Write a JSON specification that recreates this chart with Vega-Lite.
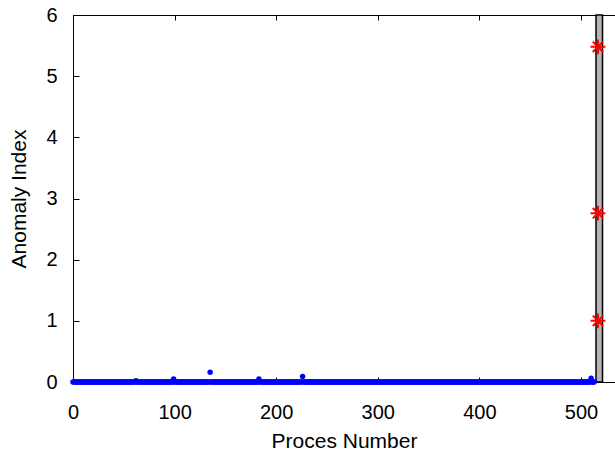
{
  "$schema": "https://vega.github.io/schema/vega-lite/v6.json",
  "width": 542,
  "height": 367,
  "autosize": {"type": "none"},
  "padding": {"left": 73, "top": 15, "right": 0, "bottom": 71},
  "background": "white",
  "config": {
    "view": {"stroke": null},
    "font": "Liberation Sans",
    "axis": {
      "grid": false,
      "labelFlush": false,
      "labelOverlap": false,
      "domainColor": "black",
      "domainWidth": 1,
      "tickColor": "black",
      "tickWidth": 1,
      "labelColor": "black",
      "titleColor": "black",
      "labelFont": "Liberation Sans",
      "titleFont": "Liberation Sans",
      "labelFontSize": 20,
      "titleFontSize": 21,
      "titleFontWeight": "normal"
    }
  },
  "datasets": {
    "blue": [
{"p":0,"a":0},{"p":1,"a":0},{"p":2,"a":0},{"p":3,"a":0},{"p":4,"a":0},{"p":5,"a":0},{"p":6,"a":0},{"p":7,"a":0},{"p":8,"a":0},{"p":9,"a":0},
{"p":10,"a":0},{"p":11,"a":0},{"p":12,"a":0},{"p":13,"a":0},{"p":14,"a":0},{"p":15,"a":0},{"p":16,"a":0},{"p":17,"a":0},{"p":18,"a":0},{"p":19,"a":0},
{"p":20,"a":0},{"p":21,"a":0},{"p":22,"a":0},{"p":23,"a":0},{"p":24,"a":0},{"p":25,"a":0},{"p":26,"a":0},{"p":27,"a":0},{"p":28,"a":0},{"p":29,"a":0},
{"p":30,"a":0},{"p":31,"a":0},{"p":32,"a":0},{"p":33,"a":0},{"p":34,"a":0},{"p":35,"a":0},{"p":36,"a":0},{"p":37,"a":0},{"p":38,"a":0},{"p":39,"a":0},
{"p":40,"a":0},{"p":41,"a":0},{"p":42,"a":0},{"p":43,"a":0},{"p":44,"a":0},{"p":45,"a":0},{"p":46,"a":0},{"p":47,"a":0},{"p":48,"a":0},{"p":49,"a":0},
{"p":50,"a":0},{"p":51,"a":0},{"p":52,"a":0},{"p":53,"a":0},{"p":54,"a":0},{"p":55,"a":0},{"p":56,"a":0},{"p":57,"a":0},{"p":58,"a":0},{"p":59,"a":0},
{"p":60,"a":0},{"p":61,"a":0},{"p":62,"a":0.02},{"p":63,"a":0},{"p":64,"a":0},{"p":65,"a":0},{"p":66,"a":0},{"p":67,"a":0},{"p":68,"a":0},{"p":69,"a":0},
{"p":70,"a":0},{"p":71,"a":0},{"p":72,"a":0},{"p":73,"a":0},{"p":74,"a":0},{"p":75,"a":0},{"p":76,"a":0},{"p":77,"a":0},{"p":78,"a":0},{"p":79,"a":0},
{"p":80,"a":0},{"p":81,"a":0},{"p":82,"a":0},{"p":83,"a":0},{"p":84,"a":0},{"p":85,"a":0},{"p":86,"a":0},{"p":87,"a":0},{"p":88,"a":0},{"p":89,"a":0},
{"p":90,"a":0},{"p":91,"a":0},{"p":92,"a":0},{"p":93,"a":0},{"p":94,"a":0},{"p":95,"a":0},{"p":96,"a":0},{"p":97,"a":0},{"p":98,"a":0},{"p":99,"a":0.05},
{"p":100,"a":0},{"p":101,"a":0},{"p":102,"a":0},{"p":103,"a":0},{"p":104,"a":0},{"p":105,"a":0},{"p":106,"a":0},{"p":107,"a":0},{"p":108,"a":0},{"p":109,"a":0},
{"p":110,"a":0},{"p":111,"a":0},{"p":112,"a":0},{"p":113,"a":0},{"p":114,"a":0},{"p":115,"a":0},{"p":116,"a":0},{"p":117,"a":0},{"p":118,"a":0},{"p":119,"a":0},
{"p":120,"a":0},{"p":121,"a":0},{"p":122,"a":0},{"p":123,"a":0},{"p":124,"a":0},{"p":125,"a":0},{"p":126,"a":0},{"p":127,"a":0},{"p":128,"a":0},{"p":129,"a":0},
{"p":130,"a":0},{"p":131,"a":0},{"p":132,"a":0},{"p":133,"a":0},{"p":134,"a":0},{"p":135,"a":0.16},{"p":136,"a":0},{"p":137,"a":0},{"p":138,"a":0},{"p":139,"a":0},
{"p":140,"a":0},{"p":141,"a":0},{"p":142,"a":0},{"p":143,"a":0},{"p":144,"a":0},{"p":145,"a":0},{"p":146,"a":0},{"p":147,"a":0},{"p":148,"a":0},{"p":149,"a":0},
{"p":150,"a":0},{"p":151,"a":0},{"p":152,"a":0},{"p":153,"a":0},{"p":154,"a":0},{"p":155,"a":0},{"p":156,"a":0},{"p":157,"a":0},{"p":158,"a":0},{"p":159,"a":0},
{"p":160,"a":0},{"p":161,"a":0},{"p":162,"a":0},{"p":163,"a":0},{"p":164,"a":0},{"p":165,"a":0},{"p":166,"a":0},{"p":167,"a":0},{"p":168,"a":0},{"p":169,"a":0},
{"p":170,"a":0},{"p":171,"a":0},{"p":172,"a":0},{"p":173,"a":0},{"p":174,"a":0},{"p":175,"a":0},{"p":176,"a":0},{"p":177,"a":0},{"p":178,"a":0},{"p":179,"a":0},
{"p":180,"a":0},{"p":181,"a":0},{"p":182,"a":0},{"p":183,"a":0.05},{"p":184,"a":0},{"p":185,"a":0},{"p":186,"a":0},{"p":187,"a":0},{"p":188,"a":0},{"p":189,"a":0},
{"p":190,"a":0},{"p":191,"a":0},{"p":192,"a":0},{"p":193,"a":0},{"p":194,"a":0},{"p":195,"a":0},{"p":196,"a":0},{"p":197,"a":0},{"p":198,"a":0},{"p":199,"a":0},
{"p":200,"a":0},{"p":201,"a":0},{"p":202,"a":0},{"p":203,"a":0},{"p":204,"a":0},{"p":205,"a":0},{"p":206,"a":0},{"p":207,"a":0},{"p":208,"a":0},{"p":209,"a":0},
{"p":210,"a":0},{"p":211,"a":0},{"p":212,"a":0},{"p":213,"a":0},{"p":214,"a":0},{"p":215,"a":0},{"p":216,"a":0},{"p":217,"a":0},{"p":218,"a":0},{"p":219,"a":0},
{"p":220,"a":0},{"p":221,"a":0},{"p":222,"a":0},{"p":223,"a":0},{"p":224,"a":0},{"p":225,"a":0},{"p":226,"a":0.09},{"p":227,"a":0},{"p":228,"a":0},{"p":229,"a":0},
{"p":230,"a":0},{"p":231,"a":0},{"p":232,"a":0},{"p":233,"a":0},{"p":234,"a":0},{"p":235,"a":0},{"p":236,"a":0},{"p":237,"a":0},{"p":238,"a":0},{"p":239,"a":0},
{"p":240,"a":0},{"p":241,"a":0},{"p":242,"a":0},{"p":243,"a":0},{"p":244,"a":0},{"p":245,"a":0},{"p":246,"a":0},{"p":247,"a":0},{"p":248,"a":0},{"p":249,"a":0},
{"p":250,"a":0},{"p":251,"a":0},{"p":252,"a":0},{"p":253,"a":0},{"p":254,"a":0},{"p":255,"a":0},{"p":256,"a":0},{"p":257,"a":0},{"p":258,"a":0},{"p":259,"a":0},
{"p":260,"a":0},{"p":261,"a":0},{"p":262,"a":0},{"p":263,"a":0},{"p":264,"a":0},{"p":265,"a":0},{"p":266,"a":0},{"p":267,"a":0},{"p":268,"a":0},{"p":269,"a":0},
{"p":270,"a":0},{"p":271,"a":0},{"p":272,"a":0},{"p":273,"a":0},{"p":274,"a":0},{"p":275,"a":0},{"p":276,"a":0},{"p":277,"a":0},{"p":278,"a":0},{"p":279,"a":0},
{"p":280,"a":0},{"p":281,"a":0},{"p":282,"a":0},{"p":283,"a":0},{"p":284,"a":0},{"p":285,"a":0},{"p":286,"a":0},{"p":287,"a":0},{"p":288,"a":0},{"p":289,"a":0},
{"p":290,"a":0},{"p":291,"a":0},{"p":292,"a":0},{"p":293,"a":0},{"p":294,"a":0},{"p":295,"a":0},{"p":296,"a":0},{"p":297,"a":0},{"p":298,"a":0},{"p":299,"a":0},
{"p":300,"a":0},{"p":301,"a":0},{"p":302,"a":0},{"p":303,"a":0},{"p":304,"a":0},{"p":305,"a":0},{"p":306,"a":0},{"p":307,"a":0},{"p":308,"a":0},{"p":309,"a":0},
{"p":310,"a":0},{"p":311,"a":0},{"p":312,"a":0},{"p":313,"a":0},{"p":314,"a":0},{"p":315,"a":0},{"p":316,"a":0},{"p":317,"a":0},{"p":318,"a":0},{"p":319,"a":0},
{"p":320,"a":0},{"p":321,"a":0},{"p":322,"a":0},{"p":323,"a":0},{"p":324,"a":0},{"p":325,"a":0},{"p":326,"a":0},{"p":327,"a":0},{"p":328,"a":0},{"p":329,"a":0},
{"p":330,"a":0},{"p":331,"a":0},{"p":332,"a":0},{"p":333,"a":0},{"p":334,"a":0},{"p":335,"a":0},{"p":336,"a":0},{"p":337,"a":0},{"p":338,"a":0},{"p":339,"a":0},
{"p":340,"a":0},{"p":341,"a":0},{"p":342,"a":0},{"p":343,"a":0},{"p":344,"a":0},{"p":345,"a":0},{"p":346,"a":0},{"p":347,"a":0},{"p":348,"a":0},{"p":349,"a":0},
{"p":350,"a":0},{"p":351,"a":0},{"p":352,"a":0},{"p":353,"a":0},{"p":354,"a":0},{"p":355,"a":0},{"p":356,"a":0},{"p":357,"a":0},{"p":358,"a":0},{"p":359,"a":0},
{"p":360,"a":0},{"p":361,"a":0},{"p":362,"a":0},{"p":363,"a":0},{"p":364,"a":0},{"p":365,"a":0},{"p":366,"a":0},{"p":367,"a":0},{"p":368,"a":0},{"p":369,"a":0},
{"p":370,"a":0},{"p":371,"a":0},{"p":372,"a":0},{"p":373,"a":0},{"p":374,"a":0},{"p":375,"a":0},{"p":376,"a":0},{"p":377,"a":0},{"p":378,"a":0},{"p":379,"a":0},
{"p":380,"a":0},{"p":381,"a":0},{"p":382,"a":0},{"p":383,"a":0},{"p":384,"a":0},{"p":385,"a":0},{"p":386,"a":0},{"p":387,"a":0},{"p":388,"a":0},{"p":389,"a":0},
{"p":390,"a":0},{"p":391,"a":0},{"p":392,"a":0},{"p":393,"a":0},{"p":394,"a":0},{"p":395,"a":0},{"p":396,"a":0},{"p":397,"a":0},{"p":398,"a":0},{"p":399,"a":0},
{"p":400,"a":0},{"p":401,"a":0},{"p":402,"a":0},{"p":403,"a":0},{"p":404,"a":0},{"p":405,"a":0},{"p":406,"a":0},{"p":407,"a":0},{"p":408,"a":0},{"p":409,"a":0},
{"p":410,"a":0},{"p":411,"a":0},{"p":412,"a":0},{"p":413,"a":0},{"p":414,"a":0},{"p":415,"a":0},{"p":416,"a":0},{"p":417,"a":0},{"p":418,"a":0},{"p":419,"a":0},
{"p":420,"a":0},{"p":421,"a":0},{"p":422,"a":0},{"p":423,"a":0},{"p":424,"a":0},{"p":425,"a":0},{"p":426,"a":0},{"p":427,"a":0},{"p":428,"a":0},{"p":429,"a":0},
{"p":430,"a":0},{"p":431,"a":0},{"p":432,"a":0},{"p":433,"a":0},{"p":434,"a":0},{"p":435,"a":0},{"p":436,"a":0},{"p":437,"a":0},{"p":438,"a":0},{"p":439,"a":0},
{"p":440,"a":0},{"p":441,"a":0},{"p":442,"a":0},{"p":443,"a":0},{"p":444,"a":0},{"p":445,"a":0},{"p":446,"a":0},{"p":447,"a":0},{"p":448,"a":0},{"p":449,"a":0},
{"p":450,"a":0},{"p":451,"a":0},{"p":452,"a":0},{"p":453,"a":0},{"p":454,"a":0},{"p":455,"a":0},{"p":456,"a":0},{"p":457,"a":0},{"p":458,"a":0},{"p":459,"a":0},
{"p":460,"a":0},{"p":461,"a":0},{"p":462,"a":0},{"p":463,"a":0},{"p":464,"a":0},{"p":465,"a":0},{"p":466,"a":0},{"p":467,"a":0},{"p":468,"a":0},{"p":469,"a":0},
{"p":470,"a":0},{"p":471,"a":0},{"p":472,"a":0},{"p":473,"a":0},{"p":474,"a":0},{"p":475,"a":0},{"p":476,"a":0},{"p":477,"a":0},{"p":478,"a":0},{"p":479,"a":0},
{"p":480,"a":0},{"p":481,"a":0},{"p":482,"a":0},{"p":483,"a":0},{"p":484,"a":0},{"p":485,"a":0},{"p":486,"a":0},{"p":487,"a":0},{"p":488,"a":0},{"p":489,"a":0},
{"p":490,"a":0},{"p":491,"a":0},{"p":492,"a":0},{"p":493,"a":0},{"p":494,"a":0},{"p":495,"a":0},{"p":496,"a":0},{"p":497,"a":0},{"p":498,"a":0},{"p":499,"a":0},
{"p":500,"a":0},{"p":501,"a":0},{"p":502,"a":0},{"p":503,"a":0},{"p":504,"a":0},{"p":505,"a":0},{"p":506,"a":0},{"p":507,"a":0},{"p":508,"a":0},{"p":509,"a":0},
{"p":510,"a":0.06},{"p":511,"a":0},{"p":512,"a":0},{"p":513,"a":0}
    ],
    "red": [
      {"p": 516.7, "a": 5.48},
      {"p": 516.7, "a": 2.76},
      {"p": 516.7, "a": 1.0}
    ],
    "bar": [
      {"x1": 514.8, "x2": 521.2, "y1": 0, "y2": 6}
    ]
  },
  "resolve": {"axis": {"x": "independent"}},
  "layer": [
    {
      "data": {"name": "bar"},
      "mark": {"type": "rect", "fill": "#b4b4b4", "stroke": "black", "strokeWidth": 1.5},
      "encoding": {
        "x": {"field": "x1", "type": "quantitative",
              "scale": {"domain": [0, 533.5], "nice": false, "zero": false},
              "axis": {"orient": "top", "labels": false, "title": null, "values": [0, 100, 200, 300, 400, 500], "tickSize": -5, "domain": true}},
        "x2": {"field": "x2"},
        "y": {"field": "y1", "type": "quantitative",
              "scale": {"domain": [0, 6], "nice": false},
              "axis": {"title": "Anomaly Index", "values": [0, 1, 2, 3, 4, 5, 6], "format": "d", "tickSize": -6, "labelPadding": 22, "titlePadding": 16}},
        "y2": {"field": "y2"}
      }
    },
    {
      "data": {"name": "blue"},
      "mark": {"type": "point", "shape": "circle", "filled": true, "color": "#0000ff", "size": 30, "opacity": 1, "clip": false},
      "encoding": {
        "x": {"field": "p", "type": "quantitative",
              "axis": {"orient": "bottom", "title": "Proces Number", "values": [0, 100, 200, 300, 400, 500], "format": "d", "tickSize": -5, "labelPadding": 25, "titlePadding": 8}},
        "y": {"field": "a", "type": "quantitative"}
      }
    },
    {
      "data": {"name": "red"},
      "mark": {"type": "point", "shape": "M-1,0L1,0M0,-1L0,1M-0.7,-0.7L0.7,0.7M-0.7,0.7L0.7,-0.7", "filled": false, "stroke": "#ff0000", "strokeWidth": 2, "size": 220, "opacity": 1},
      "encoding": {
        "x": {"field": "p", "type": "quantitative", "axis": null},
        "y": {"field": "a", "type": "quantitative"}
      }
    }
  ]
}
